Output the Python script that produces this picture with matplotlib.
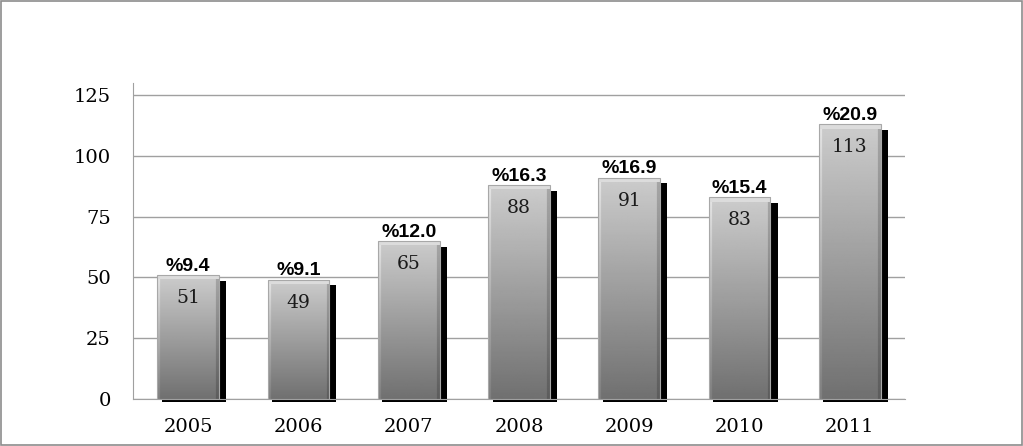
import numpy as np
import matplotlib.pyplot as plt
from matplotlib.patches import Rectangle

years = ['2005', '2006', '2007', '2008', '2009', '2010', '2011']
values = [51, 49, 65, 88, 91, 83, 113]
shares = ['%9.4', '%9.1', '%12.0', '%16.3', '%16.9', '%15.4', '%20.9']

fig = plt.figure(figsize=(10.23, 4.46), dpi=100)
ax = fig.add_axes([133 / 1023, 47 / 446, 772 / 1023, 316 / 446])

x = np.arange(len(years))
width = 0.56

# gradient for the bars: dark at the bottom, light at the top, bevelled edges
gy = np.linspace(0, 1, 200)[:, None]
gx = np.linspace(0, 1, 60)[None, :]
shade = 0.44 + 0.36 * gy
edge = np.ones_like(gx)
edge[:, :3] = 1.12
edge[:, -3:] = 0.82
grad = np.clip(shade * edge, 0, 1)

ax.set_xlim(-0.5, len(years) - 0.5)
ax.set_ylim(0, 130)

for xi, v in zip(x, values):
    # drop shadow
    ax.add_patch(Rectangle((xi - width / 2 + 0.04, -1.3), width + 0.025, v - 1.0,
                           facecolor='black', edgecolor='none', zorder=2,
                           clip_on=False))
    bar = Rectangle((xi - width / 2, 0), width, v, facecolor='none',
                    edgecolor='#a8a8a8', linewidth=0.8, zorder=4)
    ax.add_patch(bar)
    im = ax.imshow(grad, cmap='gray', vmin=0, vmax=1, origin='lower',
                   extent=(xi - width / 2, xi + width / 2, 0, v),
                   aspect='auto', zorder=3, interpolation='bilinear')
    im.set_clip_path(bar)
    # light bevel at the top
    ax.add_patch(Rectangle((xi - width / 2, v - 1.8), width, 1.8,
                           facecolor='#dcdcdc', edgecolor='none', zorder=3.5))

for xi, v, s in zip(x, values, shares):
    ax.text(xi, v - 9.5, str(v), ha='center', va='center', fontsize=13.5,
            family='DejaVu Serif', color='#1a1a1a', zorder=5)
    ax.text(xi, v + 0.2, s, ha='center', va='bottom', fontsize=14,
            family='Liberation Sans', fontweight='bold', color='black', zorder=5)

ax.set_yticks([0, 25, 50, 75, 100, 125])
ax.set_xticks(x)
ax.set_xticklabels(years)
ax.yaxis.grid(True, color='#a0a0a0', linewidth=1)
ax.set_axisbelow(True)
for lbl in ax.get_xticklabels() + ax.get_yticklabels():
    lbl.set_family('DejaVu Serif')
    lbl.set_fontsize(14)
ax.tick_params(axis='x', length=0, pad=14)
ax.tick_params(axis='y', length=0, pad=16)

for side in ['top', 'right']:
    ax.spines[side].set_visible(False)
ax.spines['left'].set_color('#a0a0a0')
ax.spines['bottom'].set_color('#a0a0a0')

# outer frame
fig.patches.append(Rectangle((0.001, 0.002), 0.998, 0.996, transform=fig.transFigure,
                             fill=False, edgecolor='#8c8c8c', linewidth=1.2))

fig.savefig('out.png', dpi=100)
